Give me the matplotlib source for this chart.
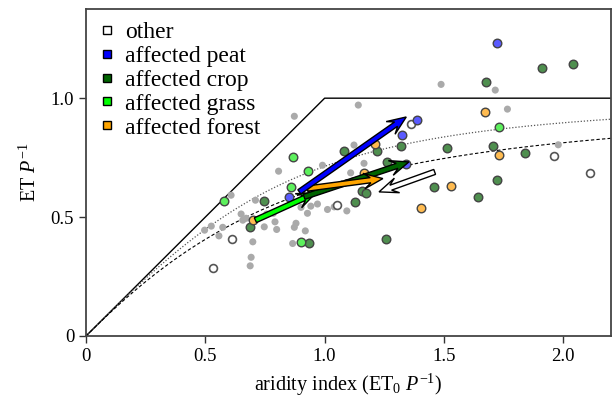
import numpy as np
import matplotlib
matplotlib.use("Agg")
import matplotlib.pyplot as plt
from matplotlib.lines import Line2D
from matplotlib.patches import FancyArrow

plt.rcParams['font.family'] = ['Liberation Serif', 'DejaVu Serif']
plt.rcParams['mathtext.fontset'] = 'custom'
plt.rcParams['mathtext.rm'] = 'Liberation Serif'
plt.rcParams['mathtext.it'] = 'Liberation Serif:italic'

# ---- data ----
gray_x = [0.807, 0.608, 0.710, 0.497, 0.525, 0.573, 0.557, 0.650, 0.657, 0.671, 0.757, 0.785,
          0.792, 0.747, 0.799, 0.880, 0.873, 0.919, 0.699, 0.866, 0.692, 0.688, 0.873, 1.141,
          0.991, 1.123, 1.165, 1.109, 1.012, 1.093, 1.040, 0.942, 0.970, 0.901, 0.928, 1.488,
          1.715, 1.766, 1.979]
gray_y = [0.693, 0.592, 0.571, 0.445, 0.462, 0.457, 0.421, 0.513, 0.487, 0.495, 0.513, 0.516,
          0.480, 0.459, 0.448, 0.474, 0.457, 0.442, 0.396, 0.389, 0.331, 0.295, 0.924, 0.971,
          0.718, 0.803, 0.726, 0.686, 0.532, 0.526, 0.543, 0.546, 0.555, 0.541, 0.516, 1.058,
          1.034, 0.954, 0.804]

other_x = [0.612, 0.534, 1.051, 1.360, 1.962, 2.113]
other_y = [0.406, 0.287, 0.550, 0.893, 0.755, 0.684]

peat_x = [0.852, 1.387, 1.325, 1.342, 1.722]
peat_y = [0.583, 0.909, 0.844, 0.724, 1.234]

crop_x = [0.745, 0.688, 0.935, 1.081, 1.220, 1.318, 1.260, 1.155, 1.175, 1.127, 1.259, 1.458,
          1.511, 1.677, 1.705, 1.724, 1.642, 1.840, 1.909, 2.039]
crop_y = [0.569, 0.458, 0.389, 0.779, 0.779, 0.800, 0.731, 0.610, 0.603, 0.565, 0.407, 0.626,
          0.790, 1.068, 0.797, 0.658, 0.585, 0.769, 1.125, 1.142]

grass_x = [0.579, 0.866, 0.932, 0.857, 0.903, 1.730]
grass_y = [0.568, 0.753, 0.695, 0.627, 0.397, 0.879]

forest_x = [0.701, 1.211, 1.165, 1.404, 1.529, 1.674, 1.732]
forest_y = [0.487, 0.808, 0.687, 0.539, 0.632, 0.942, 0.761]

# arrows: (tail_x, tail_y, tip_x, tip_y)
arrow_names = ['grass', 'crop', 'forest', 'peat', 'other']
arrow_tail_x = [0.710, 0.914, 0.928, 0.894, 1.461]
arrow_tail_y = [0.487, 0.585, 0.620, 0.606, 0.690]
arrow_tip_x = [0.963, 1.353, 1.244, 1.342, 1.228]
arrow_tip_y = [0.602, 0.732, 0.662, 0.921, 0.606]

# Budyko-type curve shape parameters (Fu)
fu_w = [2.75, 2.2]

legend_labels = ['other', 'affected peat', 'affected crop', 'affected grass', 'affected forest']
legend_colors = ['white', '#0000ff', '#006400', '#00ff00', '#ffa500']
face_colors = {'peat': '#5a5aff', 'crop': '#4f8f4f', 'grass': '#5cf05c', 'forest': '#ffbb50'}
arrow_colors = {'grass': '#00ff00', 'crop': '#006400', 'forest': '#ffa500', 'peat': '#0000ff', 'other': 'white'}

xticks = [0, 0.5, 1.0, 1.5, 2.0]
xticklabels = ['0', '0.5', '1.0', '1.5', '2.0']
yticks = [0, 0.5, 1.0]
yticklabels = ['0', '0.5', '1.0']

# ---- figure ----
fig = plt.figure(figsize=(6.16, 4.09), dpi=100)
ax = fig.add_axes([86/616, 1-336/409, 525/616, 327/409])
ax.set_xlim(0, 2.2)
ax.set_ylim(0, 1.375)

# limits
ax.plot([0, 1, 2.2], [0, 1, 1], color='black', lw=1.0, zorder=2)
phi = np.linspace(0.0001, 2.2, 300)
w1, w2 = fu_w
ax.plot(phi, 1 + phi - (1 + phi**w1)**(1/w1), color='#555555', lw=0.9, ls=(0, (1, 1.5)), zorder=2)
ax.plot(phi, 1 + phi - (1 + phi**w2)**(1/w2), color='black', lw=0.8, ls=(0, (3, 2)), zorder=2)

ax.scatter(gray_x, gray_y, s=26, c='#aaaaaa', edgecolors='none', zorder=3)
ax.scatter(other_x, other_y, s=32, c='white', edgecolors='#555555', linewidths=1.2, zorder=4)
ax.scatter(crop_x, crop_y, s=38, c=face_colors['crop'], edgecolors='#444444', linewidths=1.0, zorder=4)
ax.scatter(forest_x, forest_y, s=38, c=face_colors['forest'], edgecolors='#444444', linewidths=1.0, zorder=4)
ax.scatter(grass_x, grass_y, s=38, c=face_colors['grass'], edgecolors='#444444', linewidths=1.0, zorder=4)
ax.scatter(peat_x, peat_y, s=38, c=face_colors['peat'], edgecolors='#444444', linewidths=1.0, zorder=4)

for name, tx, ty, hx, hy in zip(arrow_names, arrow_tail_x, arrow_tail_y, arrow_tip_x, arrow_tip_y):
    arr = FancyArrow(tx, ty, hx - tx, hy - ty, width=0.022, head_width=0.065, head_length=0.08,
                     overhang=0.35, length_includes_head=True,
                     facecolor=arrow_colors[name], edgecolor='black', lw=1.0, zorder=6)
    ax.add_patch(arr)

ax.set_xticks(xticks)
ax.set_xticklabels(xticklabels)
ax.set_yticks(yticks)
ax.set_yticklabels(yticklabels)
ax.tick_params(direction='out', length=5, width=1.0, labelsize=13.5, color='#333333')
for sp in ax.spines.values():
    sp.set_color('#444444')
    sp.set_linewidth(1.3)

ax.set_xlabel(r'aridity index (ET$_0$ $P^{-1}$)', fontsize=14.5, labelpad=5)
ax.set_ylabel(r'ET $P^{-1}$', fontsize=14.5, labelpad=7)

handles = [Line2D([], [], ls='none', marker='s', markersize=6, markerfacecolor=c,
                  markeredgecolor='black', markeredgewidth=1.0) for c in legend_colors]
leg = ax.legend(handles, legend_labels, loc='upper left', frameon=False, fontsize=17,
                labelspacing=0.1, handlelength=0.6, handletextpad=0.45,
                bbox_to_anchor=(0.0, 1.005), borderaxespad=0.2)

fig.savefig('out.png', dpi=100)
